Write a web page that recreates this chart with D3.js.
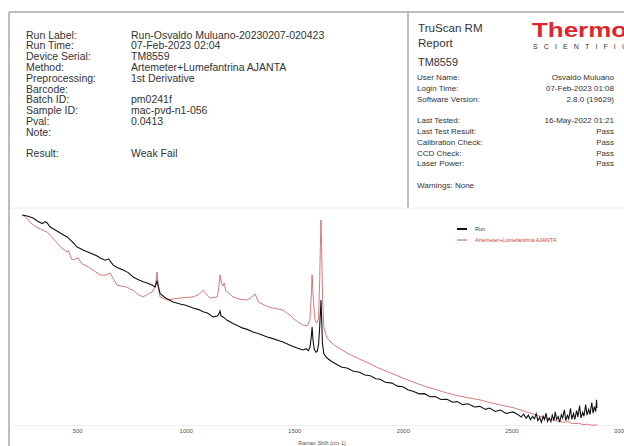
<!DOCTYPE html>
<html>
<head>
<meta charset="utf-8">
<script src="https://cdn.jsdelivr.net/npm/d3@7"></script>
<style>
  body { margin: 0; background: #fff; }
  svg { display: block; font-family: "Liberation Sans", Arial, sans-serif; }
</style>
</head>
<body>
<svg id="chart" width="624" height="446"></svg>
<script>
// Report header fields
const runLabels = ['Run Label:', 'Run Time:', 'Device Serial:', 'Method:', 'Preprocessing:', 'Barcode:',
  'Batch ID:', 'Sample ID:', 'Pval:', 'Note:', '', 'Result:'];
const runValues = ['Run-Osvaldo Muluano-20230207-020423', '07-Feb-2023 02:04', 'TM8559',
  'Artemeter+Lumefantrina AJANTA', '1st Derivative', '', 'pm0241f', 'mac-pvd-n1-056', '0.0413', '', '', 'Weak Fail'];

const statusLabels = ['User Name:', 'Login Time:', 'Software Version:', '', 'Last Tested:', 'Last Test Result:',
  'Calibration Check:', 'CCD Check:', 'Laser Power:', '', 'Warnings: None'];
const statusValues = ['Osvaldo Muluano', '07-Feb-2023 01:08', '2.8.0 (19629)', '', '16-May-2022 01:21',
  'Pass', 'Pass', 'Pass', 'Pass', '', ''];

// Spectra: [Raman shift (cm-1), relative intensity]
const runSpectrum = [
  [247, 100], [270, 99.5], [297, 98.6], [320, 97.0], [340, 96.0], [352, 96.9], [362, 96.3], [375, 94.5],
  [399, 93.0], [430, 91.2], [454, 89.8], [477, 87.6], [500, 85.1], [530, 83.6], [560, 82.3], [590, 81.0],
  [606, 80.0], [630, 79.0], [645, 79.6], [652, 78.6], [665, 76.8], [684, 75.6], [712, 74.4], [735, 73.2],
  [758, 71.2], [780, 70.0], [804, 69.0], [822, 68.4], [845, 67.4], [859, 66.5], [864, 68.0], [868, 69.3],
  [872, 67.5], [882, 63.5], [900, 62.0], [914, 61.0], [942, 59.5], [974, 58.6], [1000, 58.0], [1034, 56.7],
  [1060, 56.0], [1080, 55.0], [1100, 54.4], [1126, 52.6], [1145, 53.0], [1153, 54.0], [1158, 55.4],
  [1163, 53.0], [1172, 52.6], [1191, 51.0], [1218, 49.5], [1240, 48.5], [1260, 47.5], [1283, 46.8],
  [1310, 45.6], [1343, 44.5], [1375, 43.3], [1402, 42.5], [1430, 41.5], [1448, 40.9], [1481, 39.4],
  [1513, 38.1], [1540, 37.2], [1555, 37.8], [1565, 36.9], [1572, 38.5], [1578, 43.0], [1582, 47.9],
  [1586, 42.0], [1592, 37.5], [1600, 36.2], [1606, 36.6], [1612, 40.0], [1617, 48.0], [1620, 54.0],
  [1623, 60.5], [1626, 52.0], [1630, 40.0], [1636, 35.5], [1645, 34.2], [1651, 33.5], [1670, 32.0],
  [1700, 30.2], [1720, 29.2], [1743, 28.8], [1770, 27.4], [1800, 26.9], [1825, 25.6], [1850, 25.2],
  [1875, 23.8], [1895, 23.6], [1920, 22.2], [1950, 21.8], [1975, 20.4], [2000, 20.1], [2025, 18.6],
  [2047, 18.0], [2075, 16.8], [2100, 16.9], [2125, 15.5], [2150, 15.6], [2175, 14.2], [2203, 14.3],
  [2230, 12.9], [2250, 13.2], [2275, 11.8], [2300, 12.2], [2330, 10.7], [2355, 11.0], [2380, 9.6],
  [2400, 10.2], [2425, 8.6], [2450, 9.3], [2475, 7.7], [2507, 8.4], [2530, 7.2], [2545, 6.0], [2556, 7.4],
  [2568, 5.5], [2578, 6.9], [2588, 4.8], [2598, 6.3], [2606, 5.2], [2614, 7.6], [2622, 4.3], [2630, 5.9],
  [2638, 3.6], [2646, 6.4], [2652, 4.9], [2660, 7.8], [2666, 4.0], [2674, 5.6], [2682, 3.9], [2688, 6.9],
  [2696, 4.4], [2702, 8.4], [2708, 5.0], [2716, 6.2], [2722, 3.7], [2730, 7.1], [2736, 5.6], [2744, 9.4],
  [2750, 4.4], [2758, 6.8], [2764, 5.2], [2772, 10.1], [2778, 5.0], [2786, 7.6], [2792, 4.9], [2800, 9.0],
  [2806, 6.1], [2814, 11.3], [2820, 5.6], [2828, 8.2], [2834, 6.4], [2842, 11.8], [2848, 6.9], [2856, 9.6],
  [2862, 7.2], [2870, 12.8], [2876, 7.8], [2882, 10.9], [2888, 8.6], [2892, 14.0], [2894, 10.2]
];

const refSpectrum = [
  [247, 100], [270, 98.5], [284, 96.5], [310, 94.5], [330, 93.5], [350, 92.5], [362, 92.1], [385, 89.5],
  [408, 87.0], [430, 84.5], [454, 82.8], [460, 83.5], [470, 80.5], [477, 79.1], [490, 79.5], [505, 80.0],
  [520, 77.5], [560, 75.3], [606, 72.1], [630, 72.0], [652, 73.0], [665, 70.5], [684, 67.4], [710, 66.8],
  [730, 66.5], [745, 65.4], [758, 65.1], [780, 63.0], [804, 61.9], [830, 63.5], [845, 64.2], [860, 67.0],
  [868, 73.5], [874, 66.0], [882, 61.9], [914, 60.5], [942, 61.0], [974, 61.4], [1034, 61.9], [1060, 63.0],
  [1080, 65.1], [1100, 62.5], [1112, 61.4], [1126, 61.6], [1145, 61.9], [1152, 66.0], [1158, 72.1],
  [1165, 68.0], [1172, 67.0], [1177, 68.4], [1184, 65.0], [1191, 64.2], [1218, 61.9], [1250, 60.8],
  [1283, 60.5], [1300, 61.5], [1320, 63.3], [1335, 59.5], [1343, 59.1], [1375, 57.5], [1402, 56.7],
  [1430, 56.2], [1448, 55.8], [1470, 54.0], [1481, 53.5], [1494, 52.0], [1520, 50.0], [1540, 48.8],
  [1560, 48.4], [1572, 51.0], [1578, 62.0], [1582, 72.1], [1587, 62.0], [1594, 52.0], [1600, 50.0],
  [1605, 49.8], [1612, 52.0], [1617, 70.0], [1620, 85.0], [1623, 97.7], [1626, 85.0], [1630, 62.0],
  [1636, 48.0], [1645, 44.5], [1651, 42.8], [1680, 39.8], [1700, 38.5], [1743, 35.8], [1800, 33.0],
  [1850, 30.7], [1895, 28.5], [1950, 26.3], [2000, 24.2], [2047, 22.3], [2100, 20.4], [2150, 18.8],
  [2200, 17.3], [2250, 16.0], [2300, 15.0], [2355, 14.0], [2400, 12.8], [2450, 11.6], [2507, 10.4],
  [2550, 9.0], [2600, 7.4], [2650, 5.8], [2700, 4.4], [2740, 3.6], [2760, 3.9], [2780, 3.0], [2810, 3.1],
  [2830, 2.5], [2850, 2.7], [2870, 2.2], [2894, 2.4]
];

const seriesNames = ['Run', 'Artemeter+Lumefantrina AJANTA'];
const seriesColors = ['#111111', '#c85a5a'];
const xTicks = [500, 1000, 1500, 2000, 2500, 3000];

const svg = d3.select('#chart');

// Frame of the report page
svg.append('line').attr('x1', 9).attr('x2', 624).attr('y1', 12).attr('y2', 12)
  .attr('stroke', '#a8a8a8').attr('stroke-width', 1.5);
svg.append('line').attr('x1', 9).attr('x2', 9).attr('y1', 12).attr('y2', 446)
  .attr('stroke', '#a8a8a8').attr('stroke-width', 1.5);
svg.append('line').attr('x1', 408).attr('x2', 408).attr('y1', 12).attr('y2', 208)
  .attr('stroke', '#a8a8a8').attr('stroke-width', 1.5);
svg.append('line').attr('x1', 10).attr('x2', 624).attr('y1', 208).attr('y2', 208)
  .attr('stroke', '#ececec').attr('stroke-width', 1);

// Left header block
const rowY = d3.scaleLinear().domain([0, 1]).range([38.5, 49.3]);
svg.append('g').selectAll('text').data(runLabels).join('text')
  .attr('x', 26).attr('y', (d, i) => rowY(i))
  .attr('font-size', 10.5).attr('fill', '#333').text(d => d);
svg.append('g').selectAll('text').data(runValues).join('text')
  .attr('x', 131).attr('y', (d, i) => rowY(i))
  .attr('font-size', 10.5).attr('fill', '#333').text(d => d);

// Right header block
svg.append('text').attr('x', 418).attr('y', 32).attr('font-size', 11.6).attr('fill', '#333').text('TruScan RM');
svg.append('text').attr('x', 418).attr('y', 47).attr('font-size', 11.6).attr('fill', '#333').text('Report');
svg.append('text').attr('x', 418).attr('y', 66).attr('font-size', 10.9).attr('fill', '#333').text('TM8559');

svg.append('text').attr('x', 532).attr('y', 37)
  .attr('font-size', 21).attr('font-weight', 'bold').attr('fill', '#e0242c')
  .attr('textLength', 95).attr('lengthAdjust', 'spacingAndGlyphs').text('Thermo');
svg.append('text').attr('x', 533).attr('y', 49)
  .attr('font-size', 7).attr('fill', '#333')
  .attr('textLength', 94).attr('lengthAdjust', 'spacing').text('SCIENTIFIC');

const statusY = d3.scaleLinear().domain([0, 1]).range([80, 90.8]);
svg.append('g').selectAll('text').data(statusLabels).join('text')
  .attr('x', 417).attr('y', (d, i) => statusY(i))
  .attr('font-size', 8).attr('fill', '#333').text(d => d);
svg.append('g').selectAll('text').data(statusValues).join('text')
  .attr('x', 614).attr('y', (d, i) => statusY(i)).attr('text-anchor', 'end')
  .attr('font-size', 8).attr('fill', '#333').text(d => d);

// Spectrum plot
const x = d3.scaleLinear().domain([200, 3000]).range([12, 620]);
const y = d3.scaleLinear().domain([0, 100]).range([430, 215]);

const xAxis = svg.append('g')
  .attr('transform', 'translate(0, 425)')
  .call(d3.axisBottom(x).tickValues(xTicks).tickFormat(d3.format('d')).tickSize(0).tickPadding(4));
xAxis.select('.domain').attr('stroke', '#eeeeee');
xAxis.selectAll('text').attr('font-size', 6).attr('fill', '#555')
  .attr('font-family', '"Liberation Sans", Arial, sans-serif');

svg.append('text').attr('x', 322).attr('y', 445).attr('text-anchor', 'middle')
  .attr('font-size', 5.5).attr('fill', '#555').text('Raman Shift (cm-1)');

const line = d3.line().x(d => x(d[0])).y(d => y(d[1]));

svg.append('path').datum(refSpectrum)
  .attr('d', line).attr('fill', 'none')
  .attr('stroke', seriesColors[1]).attr('stroke-width', 0.8);
svg.append('path').datum(runSpectrum)
  .attr('d', line).attr('fill', 'none')
  .attr('stroke', seriesColors[0]).attr('stroke-width', 1.1);

// Legend
const legend = svg.append('g').selectAll('g').data(seriesNames).join('g')
  .attr('transform', (d, i) => `translate(457, ${229 + i * 11})`);
legend.append('line').attr('x1', 0).attr('x2', 10)
  .attr('stroke', (d, i) => seriesColors[i]).attr('stroke-width', (d, i) => i === 0 ? 2 : 1);
legend.append('text').attr('x', 18).attr('y', 2)
  .attr('font-size', 5.5).attr('fill', (d, i) => i === 0 ? '#333' : '#c84040').text(d => d);
</script>
</body>
</html>
